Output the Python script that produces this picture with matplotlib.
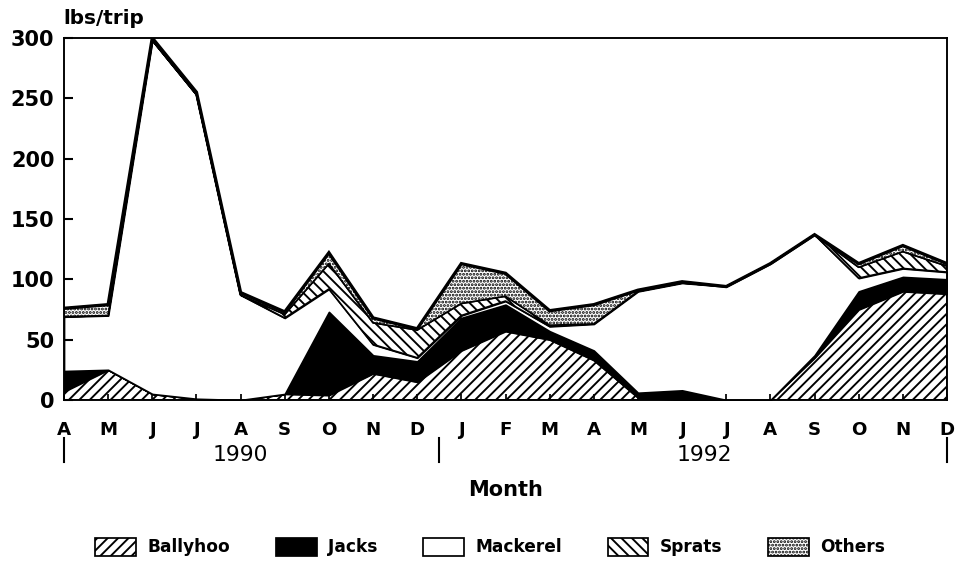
import matplotlib.pyplot as plt
import matplotlib.transforms as mtransforms
from matplotlib.patches import Patch
import numpy as np

# monthly catch per trip, April 1990 .. December
months = ['A', 'M', 'J', 'J', 'A', 'S', 'O', 'N', 'D',
          'J', 'F', 'M', 'A', 'M', 'J', 'J', 'A', 'S', 'O', 'N', 'D']
years = ['1990', '1992']
species = ['Ballyhoo', 'Jacks', 'Mackerel', 'Sprats', 'Others']

ballyhoo = [7, 25, 5, 1, 0, 5, 4, 22, 15, 41, 57, 50, 33, 2, 0, 0, 0, 35, 75, 90, 88]
jacks = [17, 0, 0, 0, 0, 0, 69, 15, 17, 27, 22, 7, 8, 4, 8, 0, 0, 2, 15, 12, 12]
mackerel = [45, 45, 293, 252, 87, 63, 19, 9, 3, 2, 3, 4, 22, 84, 89, 94, 113, 100, 11, 7, 6]
sprats = [0, 0, 0, 0, 0, 3, 21, 18, 23, 10, 4, 1, 0, 0, 0, 0, 0, 0, 9, 14, 5]
others = [7, 9, 2, 2, 2, 2, 9, 4, 1, 33, 19, 12, 16, 1, 1, 0, 0, 0, 3, 5, 2]

faces = ['white', 'black', 'white', 'white', 'white']
hatches = ['////', None, None, '\\\\\\\\', '......']

DPI = 125
plt.rcParams['font.family'] = 'DejaVu Sans'
plt.rcParams['hatch.linewidth'] = 1.1

fig = plt.figure(figsize=(958 / DPI, 564 / DPI), dpi=DPI)
ax = fig.add_axes([64 / 958, 1 - 400 / 564, 883 / 958, 362 / 564])

x = np.arange(len(months))
series = [ballyhoo, jacks, mackerel, sprats, others]
base = np.zeros(len(months))
for vals, fc, h in zip(series, faces, hatches):
    top = base + np.array(vals)
    ax.fill_between(x, base, top, facecolor=fc, hatch=h,
                    edgecolor='black', linewidth=1.0)
    base = top
ax.plot(x, base, color='black', lw=1.9, solid_joinstyle='miter')

ax.set_xlim(0, len(months) - 1)
ax.set_ylim(0, 300)
ax.set_yticks(range(0, 301, 50))
ax.set_xticks(x)
ax.set_xticklabels(months, fontsize=10.5, fontweight='bold')
for lab in ax.get_yticklabels():
    lab.set_fontsize(12)
    lab.set_fontweight('bold')
ax.tick_params(axis='y', direction='in', length=5, width=1.2, pad=5.5)
ax.tick_params(axis='x', direction='in', length=3.5, width=1.0, pad=12)
for sp in ax.spines.values():
    sp.set_linewidth(1.1)

# year captions with separators below the month letters
trans = mtransforms.blended_transform_factory(ax.transData, ax.transAxes)
for xs in [0, 8.5, len(months) - 1]:
    ax.plot([xs, xs], [-0.105, -0.172], transform=trans, clip_on=False,
            color='black', lw=1.2)
ax.text(4, -0.151, years[0], transform=trans, ha='center', va='center', fontsize=12.5)
ax.text(14.5, -0.151, years[1], transform=trans, ha='center', va='center', fontsize=12.5)

ax.text(0.5, -0.249, 'Month', transform=ax.transAxes, ha='center', va='center',
        fontsize=12, fontweight='bold')
fig.text(63 / 958, 1 - 23.5 / 564, 'lbs/trip', ha='left', va='baseline',
         fontsize=11.5, fontweight='bold')

handles = [Patch(facecolor=f, edgecolor='black', hatch=h, linewidth=1.0)
           for f, h in zip(faces, hatches)]
fig.legend(handles, species, loc='center', bbox_to_anchor=(490 / 958, 1 - 547 / 564),
           ncol=5, frameon=False, prop={'weight': 'bold', 'size': 9.8},
           handlelength=2.4, handleheight=1.25, handletextpad=0.65,
           columnspacing=2.7)

fig.savefig('out.png', dpi=DPI)
